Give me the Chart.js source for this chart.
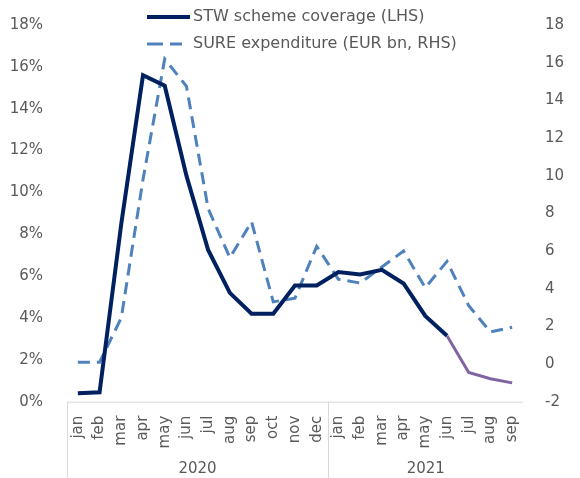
<!DOCTYPE html>
<html>
<head>
<meta charset="utf-8">
<script src="https://cdn.jsdelivr.net/npm/chart.js@4"></script>
<style>
html, body { margin: 0; padding: 0; background: #fff; }
</style>
</head>
<body>
<canvas id="chart" width="580" height="478"></canvas>
<script>
const months = ['jan', 'feb', 'mar', 'apr', 'may', 'jun', 'jul', 'aug', 'sep', 'oct', 'nov', 'dec',
                'jan', 'feb', 'mar', 'apr', 'may', 'jun', 'jul', 'aug', 'sep'];
const years = ['2020', '2021'];
const yearCounts = [12, 9];

// STW scheme coverage, % (left axis)
const stwCoverage = [0.4, 0.45, 8.5, 15.6, 15.1, 10.8, 7.25, 5.2, 4.2, 4.2, 5.55, 5.55,
                     6.2, 6.08, 6.3, 5.65, 4.1, 3.15, 1.4, 1.1, 0.9];
// SURE expenditure, EUR bn (right axis)
const sureSpend = [0.1, 0.1, 2.45, 9.8, 16.2, 14.75, 8.25, 5.65, 7.55, 3.3, 3.5, 6.25,
                   4.5, 4.3, 5.15, 6.0, 4.05, 5.45, 3.1, 1.7, 1.95];

const legendLabels = ['STW scheme coverage (LHS)', 'SURE expenditure (EUR bn, RHS)'];
const projectedFrom = 17; // jun 2021 onwards drawn in purple

const NAVY = '#002060';
const PURPLE = '#8064A2';
const BLUE = '#4F81BD';
const TEXT = '#595959';
const AXIS = '#d9d9d9';
const FONT = '"DejaVu Sans", Verdana, sans-serif';

// year groups, axis line and the legend drawn by hand
const extras = {
  id: 'extras',
  afterDraw(chart) {
    const ctx = chart.ctx;
    const area = chart.chartArea;
    const x = chart.scales.x;
    const step = x.getPixelForValue(1) - x.getPixelForValue(0);
    ctx.save();
    ctx.strokeStyle = AXIS;
    ctx.lineWidth = 1;
    ctx.beginPath();
    ctx.moveTo(area.left, area.bottom + 0.5);
    ctx.lineTo(area.right, area.bottom + 0.5);
    ctx.stroke();

    let start = 0;
    ctx.font = '15px ' + FONT;
    ctx.fillStyle = TEXT;
    ctx.textAlign = 'center';
    ctx.textBaseline = 'middle';
    years.forEach((yr, i) => {
      const x0 = Math.round(x.getPixelForValue(start) - step / 2) + 0.5;
      const x1 = x.getPixelForValue(start + yearCounts[i] - 1) + step / 2;
      ctx.beginPath();
      ctx.moveTo(x0, area.bottom);
      ctx.lineTo(x0, chart.height);
      ctx.stroke();
      ctx.fillText(yr, (x0 + x1) / 2, 469);
      start += yearCounts[i];
    });

    // legend
    ctx.font = '16px ' + FONT;
    ctx.textAlign = 'left';
    ctx.lineWidth = 4;
    ctx.strokeStyle = NAVY;
    ctx.beginPath();
    ctx.moveTo(147, 17);
    ctx.lineTo(190, 17);
    ctx.stroke();
    ctx.fillText(legendLabels[0], 193, 17);

    ctx.lineWidth = 3;
    ctx.strokeStyle = BLUE;
    ctx.setLineDash([16, 7]);
    ctx.beginPath();
    ctx.moveTo(147, 44);
    ctx.lineTo(182, 44);
    ctx.stroke();
    ctx.setLineDash([]);
    ctx.fillText(legendLabels[1], 193, 44);
    ctx.restore();
  }
};

new Chart(document.getElementById('chart'), {
  type: 'line',
  data: {
    labels: months,
    datasets: [
      {
        label: legendLabels[0],
        data: stwCoverage,
        yAxisID: 'y',
        borderColor: NAVY,
        borderWidth: 4,
        pointRadius: 0,
        tension: 0,
        segment: {
          borderColor: c => c.p0DataIndex >= projectedFrom ? PURPLE : NAVY,
          borderWidth: c => c.p0DataIndex >= projectedFrom ? 3 : 4
        }
      },
      {
        label: legendLabels[1],
        data: sureSpend,
        yAxisID: 'y1',
        borderColor: BLUE,
        borderWidth: 3,
        borderDash: [12, 7],
        pointRadius: 0,
        tension: 0
      }
    ]
  },
  options: {
    responsive: false,
    animation: false,
    layout: { padding: { top: 21.5, left: 0, right: 0, bottom: 0 } },
    plugins: { legend: { display: false }, tooltip: { enabled: false } },
    scales: {
      x: {
        offset: true,
        grid: { display: false },
        border: { display: false },
        ticks: {
          color: TEXT, font: { family: FONT, size: 15 },
          minRotation: 90, maxRotation: 90, autoSkip: false, padding: 6
        },
        afterFit: s => { s.height = 76.3; }
      },
      y: {
        position: 'left',
        min: 0, max: 18,
        grid: { display: false },
        border: { display: false },
        ticks: {
          stepSize: 2, color: TEXT, font: { family: FONT, size: 15 }, padding: 16,
          callback: v => v + '%'
        },
        afterFit: s => { s.width = 67; }
      },
      y1: {
        position: 'right',
        min: -2, max: 18,
        grid: { display: false },
        border: { display: false },
        ticks: { stepSize: 2, color: TEXT, font: { family: FONT, size: 15 }, padding: 14 },
        afterFit: s => { s.width = 57; }
      }
    }
  },
  plugins: [extras]
});
</script>
</body>
</html>
